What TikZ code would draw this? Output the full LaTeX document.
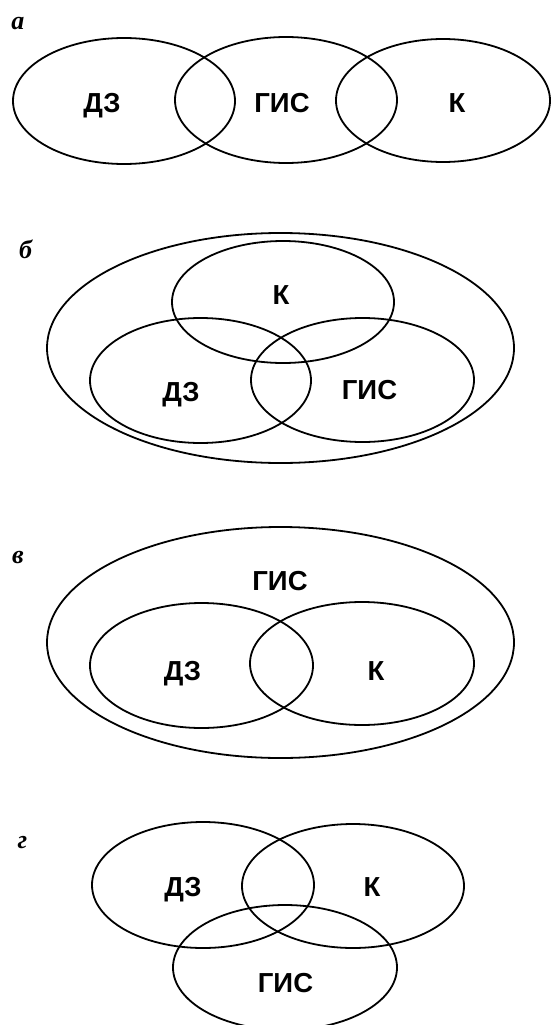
\documentclass[tikz,border=0pt]{standalone}
\usepackage{fontspec}
\setmainfont{Liberation Serif}
\newfontfamily\setfont{Liberation Sans}
\usetikzlibrary{shapes.geometric}
\tikzset{
  setshape/.style={draw, ellipse, line width=1.8pt, inner sep=0pt, outer sep=0pt},
  settext/.style={anchor=base, inner sep=0pt, font=\setfont\bfseries\fontsize{27.5}{27.5}\selectfont},
  panel/.style={anchor=base, inner sep=0pt, font=\bfseries\itshape\fontsize{26}{26}\selectfont}
}
\begin{document}
\begin{tikzpicture}[x=1pt, y=-1pt]
\useasboundingbox (0,0) rectangle (552,1025);

% --- panel a: three sets in a row
\node[panel] (la) at (18,30) {а};
\node[setshape, minimum width=222pt, minimum height=126pt] (a1) at (124,101) {};
\node[setshape, minimum width=222pt, minimum height=126pt] (a2) at (286,100) {};
\node[setshape, minimum width=214pt, minimum height=123pt] (a3) at (443,100.5) {};
\node[settext] (ta1) at (102,112) {ДЗ};
\node[settext] (ta2) at (282,112) {ГИС};
\node[settext] (ta3) at (457,112) {К};

% --- panel b: three overlapping sets inside a common one
\node[panel] (lb) at (25.5,258) {б};
\node[setshape, minimum width=467pt, minimum height=230pt] (b0) at (280.5,348) {};
\node[setshape, minimum width=222pt, minimum height=122pt] (b1) at (283,302) {};
\node[setshape, minimum width=221pt, minimum height=125pt] (b2) at (200.5,380.5) {};
\node[setshape, minimum width=223pt, minimum height=124pt] (b3) at (362.5,380) {};
\node[settext] (tb1) at (281,304) {К};
\node[settext] (tb2) at (181,401) {ДЗ};
\node[settext] (tb3) at (369.5,399) {ГИС};

% --- panel v: two sets inside the GIS set
\node[panel] (lv) at (18,563) {в};
\node[setshape, minimum width=467pt, minimum height=231pt] (v0) at (280.5,642.5) {};
\node[setshape, minimum width=223pt, minimum height=125pt] (v1) at (201.5,665.5) {};
\node[setshape, minimum width=224pt, minimum height=123pt] (v2) at (362,663.5) {};
\node[settext] (tv0) at (280,590) {ГИС};
\node[settext] (tv1) at (182.5,680) {ДЗ};
\node[settext] (tv2) at (376,680) {К};

% --- panel g: three mutually overlapping sets
\node[panel] (lg) at (22.5,848) {г};
\node[setshape, minimum width=222pt, minimum height=126pt] (g1) at (203,885) {};
\node[setshape, minimum width=222pt, minimum height=124pt] (g2) at (353,886) {};
\node[setshape, minimum width=224pt, minimum height=125pt] (g3) at (285,967.5) {};
\node[settext] (tg1) at (183,896) {ДЗ};
\node[settext] (tg2) at (372,896) {К};
\node[settext] (tg3) at (285.5,992) {ГИС};
\end{tikzpicture}
\end{document}
